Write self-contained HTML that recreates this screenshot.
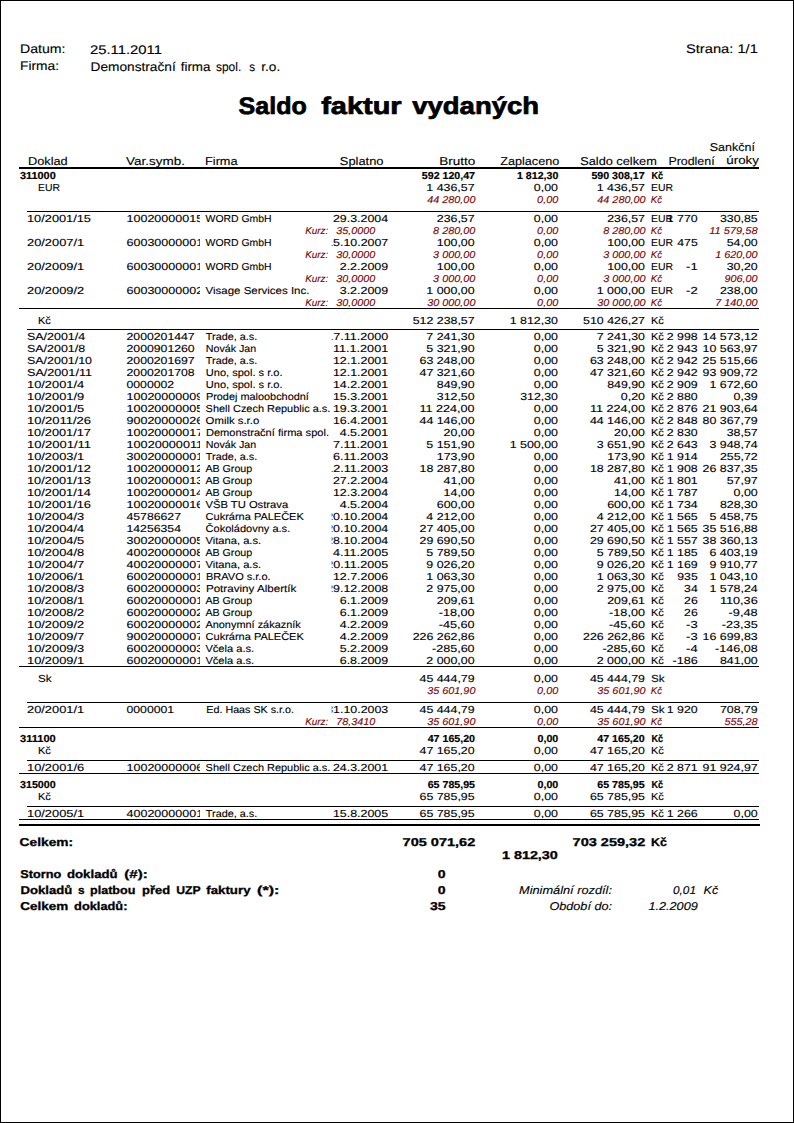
<!DOCTYPE html>
<html lang="cs"><head><meta charset="utf-8"><title>Saldo faktur vydaných</title>
<style>
html,body{margin:0;padding:0;background:#fff;}
body{width:794px;height:1123px;overflow:hidden;position:relative;font-family:"Liberation Sans",sans-serif;}
svg{position:absolute;left:0;top:0;display:block;}
text{font-family:"Liberation Sans",sans-serif;fill:#000;white-space:pre;}
rect{fill:#000;shape-rendering:crispEdges;}
.b8{font-size:10.2px;stroke:#000;stroke-width:.12px;}
.b75{font-size:10.1px;stroke:#000;stroke-width:.12px;}
.i7{font-size:10.0px;font-style:italic;fill:#800000;stroke:#800000;stroke-width:.12px;}
.bb7{font-size:10.1px;font-weight:bold;stroke:#000;stroke-width:.2px;}
.h9{font-size:11.4px;stroke:#000;stroke-width:.12px;}
.h10{font-size:12.5px;stroke:#000;stroke-width:.12px;}
.bb9{font-size:11.4px;font-weight:bold;stroke:#000;stroke-width:.3px;}
.i9{font-size:11.4px;font-style:italic;stroke:#000;stroke-width:.12px;}
.title{font-size:24px;font-weight:bold;stroke:#000;stroke-width:.7px;}
.frame{fill:none;stroke:#000;stroke-width:1;shape-rendering:crispEdges;}
</style></head><body>
<svg width="794" height="1123" viewBox="0 0 794 1123">
<defs>
<clipPath id="cv"><rect x="120" y="150" width="80.1" height="700"/></clipPath>
<clipPath id="cs"><rect x="331.7" y="150" width="70" height="700"/></clipPath>
</defs>
<rect class="frame" x="0.5" y="0.5" width="793" height="1122"/>
<text class="h10" transform="translate(20.0 53) rotate(.05)" textLength="45.5" lengthAdjust="spacingAndGlyphs">Datum:</text>
<text class="h10" transform="translate(90.0 54) rotate(.05)" textLength="72.0" lengthAdjust="spacingAndGlyphs">25.11.2011</text>
<text class="h10" transform="translate(20.0 70) rotate(.05)" textLength="39.0" lengthAdjust="spacingAndGlyphs">Firma:</text>
<text class="h10" transform="translate(90.6 71) rotate(.05)" textLength="85.1" lengthAdjust="spacingAndGlyphs">Demonstrační</text>
<text class="h10" transform="translate(180.7 71) rotate(.05)" textLength="29.7" lengthAdjust="spacingAndGlyphs">firma</text>
<text class="h10" transform="translate(216.0 71) rotate(.05)" textLength="25.2" lengthAdjust="spacingAndGlyphs">spol.</text>
<text class="h10" transform="translate(249.2 71) rotate(.05)" textLength="5.8" lengthAdjust="spacingAndGlyphs">s</text>
<text class="h10" transform="translate(261.3 71) rotate(.05)" textLength="18.9" lengthAdjust="spacingAndGlyphs">r.o.</text>
<text class="h10" transform="translate(686.0 53) rotate(.05)" textLength="71.8" lengthAdjust="spacingAndGlyphs">Strana: 1/1</text>
<text class="title" transform="translate(238.6 114) rotate(.05)" textLength="68.1" lengthAdjust="spacingAndGlyphs">Saldo</text>
<text class="title" transform="translate(321.2 114) rotate(.05)" textLength="80.4" lengthAdjust="spacingAndGlyphs">faktur</text>
<text class="title" transform="translate(412.3 114) rotate(.05)" textLength="126.7" lengthAdjust="spacingAndGlyphs">vydaných</text>
<text class="h9" transform="translate(28.0 165) rotate(.05)" textLength="39.7" lengthAdjust="spacingAndGlyphs">Doklad</text>
<text class="h9" transform="translate(126.0 165) rotate(.05)" textLength="59.0" lengthAdjust="spacingAndGlyphs">Var.symb.</text>
<text class="h9" transform="translate(205.0 165) rotate(.05)" textLength="32.6" lengthAdjust="spacingAndGlyphs">Firma</text>
<text class="h9" transform="translate(339.8 165) rotate(.05)" textLength="43.7" lengthAdjust="spacingAndGlyphs">Splatno</text>
<text class="h9" transform="translate(475.2 165) rotate(.05)" textLength="36.0" lengthAdjust="spacingAndGlyphs" text-anchor="end">Brutto</text>
<text class="h9" transform="translate(559.2 165) rotate(.05)" textLength="58.9" lengthAdjust="spacingAndGlyphs" text-anchor="end">Zaplaceno</text>
<text class="h9" transform="translate(580.2 165) rotate(.05)" textLength="76.6" lengthAdjust="spacingAndGlyphs">Saldo celkem</text>
<text class="h9" transform="translate(668.4 165) rotate(.05)" textLength="46.2" lengthAdjust="spacingAndGlyphs">Prodlení</text>
<text class="h9" transform="translate(709.8 151) rotate(.05)" textLength="45.1" lengthAdjust="spacingAndGlyphs">Sankční</text>
<text class="h9" transform="translate(726.3 164) rotate(.05)" textLength="32.6" lengthAdjust="spacingAndGlyphs">úroky</text>
<rect x="19" y="167" width="740" height="2"/>
<text class="bb7" transform="translate(20.0 179) rotate(.05)" textLength="35.7" lengthAdjust="spacingAndGlyphs">311000</text>
<text class="bb7" transform="translate(475.0 179) rotate(.05)" textLength="53.2" lengthAdjust="spacingAndGlyphs" text-anchor="end">592 120,47</text>
<text class="bb7" transform="translate(558.3 179) rotate(.05)" textLength="41.3" lengthAdjust="spacingAndGlyphs" text-anchor="end">1 812,30</text>
<text class="bb7" transform="translate(644.6 179) rotate(.05)" textLength="53.2" lengthAdjust="spacingAndGlyphs" text-anchor="end">590 308,17</text>
<text class="bb7" transform="translate(651.4 179) rotate(.05)" textLength="11.6" lengthAdjust="spacingAndGlyphs">Kč</text>
<text class="b8" transform="translate(38.0 191) rotate(.05)" textLength="22.0" lengthAdjust="spacingAndGlyphs">EUR</text>
<text class="b8" transform="translate(474.6 191) rotate(.05)" textLength="48.3" lengthAdjust="spacingAndGlyphs" text-anchor="end">1 436,57</text>
<text class="b8" transform="translate(558.0 191) rotate(.05)" textLength="24.2" lengthAdjust="spacingAndGlyphs" text-anchor="end">0,00</text>
<text class="b8" transform="translate(645.0 191) rotate(.05)" textLength="48.3" lengthAdjust="spacingAndGlyphs" text-anchor="end">1 436,57</text>
<text class="b8" transform="translate(651.0 191) rotate(.05)" textLength="22.0" lengthAdjust="spacingAndGlyphs">EUR</text>
<text class="i7" transform="translate(475.4 203) rotate(.05)" textLength="48.2" lengthAdjust="spacingAndGlyphs" text-anchor="end">44 280,00</text>
<text class="i7" transform="translate(558.3 203) rotate(.05)" textLength="21.2" lengthAdjust="spacingAndGlyphs" text-anchor="end">0,00</text>
<text class="i7" transform="translate(645.5 203) rotate(.05)" textLength="48.2" lengthAdjust="spacingAndGlyphs" text-anchor="end">44 280,00</text>
<text class="i7" transform="translate(650.7 203) rotate(.05)" textLength="11.3" lengthAdjust="spacingAndGlyphs">Kč</text>
<rect x="27" y="211" width="732" height="1"/>
<text class="b8" transform="translate(27.0 222) rotate(.05)" textLength="64.0" lengthAdjust="spacingAndGlyphs">10/2001/15</text>
<g clip-path="url(#cv)"><text class="b8" transform="translate(126.5 222) rotate(.05)" textLength="76.6" lengthAdjust="spacingAndGlyphs">10020000015</text></g>
<text class="b75" transform="translate(205.6 222) rotate(.05)" textLength="66.0" lengthAdjust="spacingAndGlyphs">WORD GmbH</text>
<g clip-path="url(#cs)"><text class="b8" transform="translate(388.2 222) rotate(.05)" textLength="55.3" lengthAdjust="spacingAndGlyphs" text-anchor="end">29.3.2004</text></g>
<text class="b8" transform="translate(474.6 222) rotate(.05)" textLength="37.8" lengthAdjust="spacingAndGlyphs" text-anchor="end">236,57</text>
<text class="b8" transform="translate(558.0 222) rotate(.05)" textLength="24.2" lengthAdjust="spacingAndGlyphs" text-anchor="end">0,00</text>
<text class="b8" transform="translate(645.0 222) rotate(.05)" textLength="37.8" lengthAdjust="spacingAndGlyphs" text-anchor="end">236,57</text>
<text class="b8" transform="translate(651.0 222) rotate(.05)" textLength="22.0" lengthAdjust="spacingAndGlyphs">EUR</text>
<text class="b8" transform="translate(697.7 222) rotate(.05)" textLength="30.9" lengthAdjust="spacingAndGlyphs" text-anchor="end">1 770</text>
<text class="b8" transform="translate(757.7 222) rotate(.05)" textLength="37.8" lengthAdjust="spacingAndGlyphs" text-anchor="end">330,85</text>
<text class="i7" transform="translate(305.2 234) rotate(.05)" textLength="23.0" lengthAdjust="spacingAndGlyphs">Kurz:</text>
<text class="i7" transform="translate(375.2 234) rotate(.05)" textLength="39.0" lengthAdjust="spacingAndGlyphs" text-anchor="end">35,0000</text>
<text class="i7" transform="translate(475.4 234) rotate(.05)" textLength="42.3" lengthAdjust="spacingAndGlyphs" text-anchor="end">8 280,00</text>
<text class="i7" transform="translate(558.3 234) rotate(.05)" textLength="21.2" lengthAdjust="spacingAndGlyphs" text-anchor="end">0,00</text>
<text class="i7" transform="translate(645.5 234) rotate(.05)" textLength="42.3" lengthAdjust="spacingAndGlyphs" text-anchor="end">8 280,00</text>
<text class="i7" transform="translate(650.7 234) rotate(.05)" textLength="11.3" lengthAdjust="spacingAndGlyphs">Kč</text>
<text class="i7" transform="translate(757.5 234) rotate(.05)" textLength="48.2" lengthAdjust="spacingAndGlyphs" text-anchor="end">11 579,58</text>
<text class="b8" transform="translate(27.0 246) rotate(.05)" textLength="57.2" lengthAdjust="spacingAndGlyphs">20/2007/1</text>
<g clip-path="url(#cv)"><text class="b8" transform="translate(126.5 246) rotate(.05)" textLength="76.6" lengthAdjust="spacingAndGlyphs">60030000001</text></g>
<text class="b75" transform="translate(205.6 246) rotate(.05)" textLength="66.0" lengthAdjust="spacingAndGlyphs">WORD GmbH</text>
<g clip-path="url(#cs)"><text class="b8" transform="translate(388.2 246) rotate(.05)" textLength="62.0" lengthAdjust="spacingAndGlyphs" text-anchor="end">15.10.2007</text></g>
<text class="b8" transform="translate(474.6 246) rotate(.05)" textLength="37.8" lengthAdjust="spacingAndGlyphs" text-anchor="end">100,00</text>
<text class="b8" transform="translate(558.0 246) rotate(.05)" textLength="24.2" lengthAdjust="spacingAndGlyphs" text-anchor="end">0,00</text>
<text class="b8" transform="translate(645.0 246) rotate(.05)" textLength="37.8" lengthAdjust="spacingAndGlyphs" text-anchor="end">100,00</text>
<text class="b8" transform="translate(651.0 246) rotate(.05)" textLength="22.0" lengthAdjust="spacingAndGlyphs">EUR</text>
<text class="b8" transform="translate(697.7 246) rotate(.05)" textLength="20.4" lengthAdjust="spacingAndGlyphs" text-anchor="end">475</text>
<text class="b8" transform="translate(757.7 246) rotate(.05)" textLength="31.0" lengthAdjust="spacingAndGlyphs" text-anchor="end">54,00</text>
<text class="i7" transform="translate(305.2 258) rotate(.05)" textLength="23.0" lengthAdjust="spacingAndGlyphs">Kurz:</text>
<text class="i7" transform="translate(375.2 258) rotate(.05)" textLength="39.0" lengthAdjust="spacingAndGlyphs" text-anchor="end">30,0000</text>
<text class="i7" transform="translate(475.4 258) rotate(.05)" textLength="42.3" lengthAdjust="spacingAndGlyphs" text-anchor="end">3 000,00</text>
<text class="i7" transform="translate(558.3 258) rotate(.05)" textLength="21.2" lengthAdjust="spacingAndGlyphs" text-anchor="end">0,00</text>
<text class="i7" transform="translate(645.5 258) rotate(.05)" textLength="42.3" lengthAdjust="spacingAndGlyphs" text-anchor="end">3 000,00</text>
<text class="i7" transform="translate(650.7 258) rotate(.05)" textLength="11.3" lengthAdjust="spacingAndGlyphs">Kč</text>
<text class="i7" transform="translate(757.5 258) rotate(.05)" textLength="42.3" lengthAdjust="spacingAndGlyphs" text-anchor="end">1 620,00</text>
<text class="b8" transform="translate(27.0 270) rotate(.05)" textLength="57.2" lengthAdjust="spacingAndGlyphs">20/2009/1</text>
<g clip-path="url(#cv)"><text class="b8" transform="translate(126.5 270) rotate(.05)" textLength="76.6" lengthAdjust="spacingAndGlyphs">60030000001</text></g>
<text class="b75" transform="translate(205.6 270) rotate(.05)" textLength="66.0" lengthAdjust="spacingAndGlyphs">WORD GmbH</text>
<g clip-path="url(#cs)"><text class="b8" transform="translate(388.2 270) rotate(.05)" textLength="48.5" lengthAdjust="spacingAndGlyphs" text-anchor="end">2.2.2009</text></g>
<text class="b8" transform="translate(474.6 270) rotate(.05)" textLength="37.8" lengthAdjust="spacingAndGlyphs" text-anchor="end">100,00</text>
<text class="b8" transform="translate(558.0 270) rotate(.05)" textLength="24.2" lengthAdjust="spacingAndGlyphs" text-anchor="end">0,00</text>
<text class="b8" transform="translate(645.0 270) rotate(.05)" textLength="37.8" lengthAdjust="spacingAndGlyphs" text-anchor="end">100,00</text>
<text class="b8" transform="translate(651.0 270) rotate(.05)" textLength="22.0" lengthAdjust="spacingAndGlyphs">EUR</text>
<text class="b8" transform="translate(697.7 270) rotate(.05)" textLength="11.6" lengthAdjust="spacingAndGlyphs" text-anchor="end">-1</text>
<text class="b8" transform="translate(757.7 270) rotate(.05)" textLength="31.0" lengthAdjust="spacingAndGlyphs" text-anchor="end">30,20</text>
<text class="i7" transform="translate(305.2 282) rotate(.05)" textLength="23.0" lengthAdjust="spacingAndGlyphs">Kurz:</text>
<text class="i7" transform="translate(375.2 282) rotate(.05)" textLength="39.0" lengthAdjust="spacingAndGlyphs" text-anchor="end">30,0000</text>
<text class="i7" transform="translate(475.4 282) rotate(.05)" textLength="42.3" lengthAdjust="spacingAndGlyphs" text-anchor="end">3 000,00</text>
<text class="i7" transform="translate(558.3 282) rotate(.05)" textLength="21.2" lengthAdjust="spacingAndGlyphs" text-anchor="end">0,00</text>
<text class="i7" transform="translate(645.5 282) rotate(.05)" textLength="42.3" lengthAdjust="spacingAndGlyphs" text-anchor="end">3 000,00</text>
<text class="i7" transform="translate(650.7 282) rotate(.05)" textLength="11.3" lengthAdjust="spacingAndGlyphs">Kč</text>
<text class="i7" transform="translate(757.5 282) rotate(.05)" textLength="33.1" lengthAdjust="spacingAndGlyphs" text-anchor="end">906,00</text>
<text class="b8" transform="translate(27.0 294) rotate(.05)" textLength="57.2" lengthAdjust="spacingAndGlyphs">20/2009/2</text>
<g clip-path="url(#cv)"><text class="b8" transform="translate(126.5 294) rotate(.05)" textLength="76.6" lengthAdjust="spacingAndGlyphs">60030000002</text></g>
<text class="b75" transform="translate(205.6 294) rotate(.05)" textLength="103.8" lengthAdjust="spacingAndGlyphs">Visage Services Inc.</text>
<g clip-path="url(#cs)"><text class="b8" transform="translate(388.2 294) rotate(.05)" textLength="48.5" lengthAdjust="spacingAndGlyphs" text-anchor="end">3.2.2009</text></g>
<text class="b8" transform="translate(474.6 294) rotate(.05)" textLength="48.3" lengthAdjust="spacingAndGlyphs" text-anchor="end">1 000,00</text>
<text class="b8" transform="translate(558.0 294) rotate(.05)" textLength="24.2" lengthAdjust="spacingAndGlyphs" text-anchor="end">0,00</text>
<text class="b8" transform="translate(645.0 294) rotate(.05)" textLength="48.3" lengthAdjust="spacingAndGlyphs" text-anchor="end">1 000,00</text>
<text class="b8" transform="translate(651.0 294) rotate(.05)" textLength="22.0" lengthAdjust="spacingAndGlyphs">EUR</text>
<text class="b8" transform="translate(697.7 294) rotate(.05)" textLength="11.6" lengthAdjust="spacingAndGlyphs" text-anchor="end">-2</text>
<text class="b8" transform="translate(757.7 294) rotate(.05)" textLength="37.8" lengthAdjust="spacingAndGlyphs" text-anchor="end">238,00</text>
<text class="i7" transform="translate(305.2 306) rotate(.05)" textLength="23.0" lengthAdjust="spacingAndGlyphs">Kurz:</text>
<text class="i7" transform="translate(375.2 306) rotate(.05)" textLength="39.0" lengthAdjust="spacingAndGlyphs" text-anchor="end">30,0000</text>
<text class="i7" transform="translate(475.4 306) rotate(.05)" textLength="48.2" lengthAdjust="spacingAndGlyphs" text-anchor="end">30 000,00</text>
<text class="i7" transform="translate(558.3 306) rotate(.05)" textLength="21.2" lengthAdjust="spacingAndGlyphs" text-anchor="end">0,00</text>
<text class="i7" transform="translate(645.5 306) rotate(.05)" textLength="48.2" lengthAdjust="spacingAndGlyphs" text-anchor="end">30 000,00</text>
<text class="i7" transform="translate(650.7 306) rotate(.05)" textLength="11.3" lengthAdjust="spacingAndGlyphs">Kč</text>
<text class="i7" transform="translate(757.5 306) rotate(.05)" textLength="42.3" lengthAdjust="spacingAndGlyphs" text-anchor="end">7 140,00</text>
<rect x="19" y="308" width="740" height="1"/>
<text class="b8" transform="translate(38.0 324) rotate(.05)" textLength="12.9" lengthAdjust="spacingAndGlyphs">Kč</text>
<text class="b8" transform="translate(474.6 324) rotate(.05)" textLength="61.9" lengthAdjust="spacingAndGlyphs" text-anchor="end">512 238,57</text>
<text class="b8" transform="translate(558.0 324) rotate(.05)" textLength="48.3" lengthAdjust="spacingAndGlyphs" text-anchor="end">1 812,30</text>
<text class="b8" transform="translate(645.0 324) rotate(.05)" textLength="61.9" lengthAdjust="spacingAndGlyphs" text-anchor="end">510 426,27</text>
<text class="b8" transform="translate(651.0 324) rotate(.05)" textLength="12.9" lengthAdjust="spacingAndGlyphs">Kč</text>
<rect x="27" y="329" width="732" height="1"/>
<text class="b8" transform="translate(27.0 340) rotate(.05)" textLength="58.2" lengthAdjust="spacingAndGlyphs">SA/2001/4</text>
<g clip-path="url(#cv)"><text class="b8" transform="translate(126.5 340) rotate(.05)" textLength="68.2" lengthAdjust="spacingAndGlyphs">2000201447</text></g>
<text class="b75" transform="translate(205.8 340) rotate(.05)" textLength="51.4" lengthAdjust="spacingAndGlyphs">Trade, a.s.</text>
<g clip-path="url(#cs)"><text class="b8" transform="translate(388.2 340) rotate(.05)" textLength="62.0" lengthAdjust="spacingAndGlyphs" text-anchor="end">17.11.2000</text></g>
<text class="b8" transform="translate(474.6 340) rotate(.05)" textLength="48.3" lengthAdjust="spacingAndGlyphs" text-anchor="end">7 241,30</text>
<text class="b8" transform="translate(558.0 340) rotate(.05)" textLength="24.2" lengthAdjust="spacingAndGlyphs" text-anchor="end">0,00</text>
<text class="b8" transform="translate(645.0 340) rotate(.05)" textLength="48.3" lengthAdjust="spacingAndGlyphs" text-anchor="end">7 241,30</text>
<text class="b8" transform="translate(651.0 340) rotate(.05)" textLength="12.9" lengthAdjust="spacingAndGlyphs">Kč</text>
<text class="b8" transform="translate(697.7 340) rotate(.05)" textLength="30.9" lengthAdjust="spacingAndGlyphs" text-anchor="end">2 998</text>
<text class="b8" transform="translate(757.7 340) rotate(.05)" textLength="55.1" lengthAdjust="spacingAndGlyphs" text-anchor="end">14 573,12</text>
<text class="b8" transform="translate(27.0 352) rotate(.05)" textLength="58.2" lengthAdjust="spacingAndGlyphs">SA/2001/8</text>
<g clip-path="url(#cv)"><text class="b8" transform="translate(126.5 352) rotate(.05)" textLength="68.2" lengthAdjust="spacingAndGlyphs">2000901260</text></g>
<text class="b75" transform="translate(205.8 352) rotate(.05)" textLength="50.4" lengthAdjust="spacingAndGlyphs">Novák Jan</text>
<g clip-path="url(#cs)"><text class="b8" transform="translate(388.2 352) rotate(.05)" textLength="55.3" lengthAdjust="spacingAndGlyphs" text-anchor="end">11.1.2001</text></g>
<text class="b8" transform="translate(474.6 352) rotate(.05)" textLength="48.3" lengthAdjust="spacingAndGlyphs" text-anchor="end">5 321,90</text>
<text class="b8" transform="translate(558.0 352) rotate(.05)" textLength="24.2" lengthAdjust="spacingAndGlyphs" text-anchor="end">0,00</text>
<text class="b8" transform="translate(645.0 352) rotate(.05)" textLength="48.3" lengthAdjust="spacingAndGlyphs" text-anchor="end">5 321,90</text>
<text class="b8" transform="translate(651.0 352) rotate(.05)" textLength="12.9" lengthAdjust="spacingAndGlyphs">Kč</text>
<text class="b8" transform="translate(697.7 352) rotate(.05)" textLength="30.9" lengthAdjust="spacingAndGlyphs" text-anchor="end">2 943</text>
<text class="b8" transform="translate(757.7 352) rotate(.05)" textLength="55.1" lengthAdjust="spacingAndGlyphs" text-anchor="end">10 563,97</text>
<text class="b8" transform="translate(27.0 364) rotate(.05)" textLength="65.0" lengthAdjust="spacingAndGlyphs">SA/2001/10</text>
<g clip-path="url(#cv)"><text class="b8" transform="translate(126.5 364) rotate(.05)" textLength="68.2" lengthAdjust="spacingAndGlyphs">2000201697</text></g>
<text class="b75" transform="translate(205.8 364) rotate(.05)" textLength="51.4" lengthAdjust="spacingAndGlyphs">Trade, a.s.</text>
<g clip-path="url(#cs)"><text class="b8" transform="translate(388.2 364) rotate(.05)" textLength="55.3" lengthAdjust="spacingAndGlyphs" text-anchor="end">12.1.2001</text></g>
<text class="b8" transform="translate(474.6 364) rotate(.05)" textLength="55.1" lengthAdjust="spacingAndGlyphs" text-anchor="end">63 248,00</text>
<text class="b8" transform="translate(558.0 364) rotate(.05)" textLength="24.2" lengthAdjust="spacingAndGlyphs" text-anchor="end">0,00</text>
<text class="b8" transform="translate(645.0 364) rotate(.05)" textLength="55.1" lengthAdjust="spacingAndGlyphs" text-anchor="end">63 248,00</text>
<text class="b8" transform="translate(651.0 364) rotate(.05)" textLength="12.9" lengthAdjust="spacingAndGlyphs">Kč</text>
<text class="b8" transform="translate(697.7 364) rotate(.05)" textLength="30.9" lengthAdjust="spacingAndGlyphs" text-anchor="end">2 942</text>
<text class="b8" transform="translate(757.7 364) rotate(.05)" textLength="55.1" lengthAdjust="spacingAndGlyphs" text-anchor="end">25 515,66</text>
<text class="b8" transform="translate(27.0 376) rotate(.05)" textLength="65.0" lengthAdjust="spacingAndGlyphs">SA/2001/11</text>
<g clip-path="url(#cv)"><text class="b8" transform="translate(126.5 376) rotate(.05)" textLength="68.2" lengthAdjust="spacingAndGlyphs">2000201708</text></g>
<text class="b75" transform="translate(205.8 376) rotate(.05)" textLength="76.7" lengthAdjust="spacingAndGlyphs">Uno, spol. s r.o.</text>
<g clip-path="url(#cs)"><text class="b8" transform="translate(388.2 376) rotate(.05)" textLength="55.3" lengthAdjust="spacingAndGlyphs" text-anchor="end">12.1.2001</text></g>
<text class="b8" transform="translate(474.6 376) rotate(.05)" textLength="55.1" lengthAdjust="spacingAndGlyphs" text-anchor="end">47 321,60</text>
<text class="b8" transform="translate(558.0 376) rotate(.05)" textLength="24.2" lengthAdjust="spacingAndGlyphs" text-anchor="end">0,00</text>
<text class="b8" transform="translate(645.0 376) rotate(.05)" textLength="55.1" lengthAdjust="spacingAndGlyphs" text-anchor="end">47 321,60</text>
<text class="b8" transform="translate(651.0 376) rotate(.05)" textLength="12.9" lengthAdjust="spacingAndGlyphs">Kč</text>
<text class="b8" transform="translate(697.7 376) rotate(.05)" textLength="30.9" lengthAdjust="spacingAndGlyphs" text-anchor="end">2 942</text>
<text class="b8" transform="translate(757.7 376) rotate(.05)" textLength="55.1" lengthAdjust="spacingAndGlyphs" text-anchor="end">93 909,72</text>
<text class="b8" transform="translate(27.0 388) rotate(.05)" textLength="57.2" lengthAdjust="spacingAndGlyphs">10/2001/4</text>
<g clip-path="url(#cv)"><text class="b8" transform="translate(126.5 388) rotate(.05)" textLength="47.7" lengthAdjust="spacingAndGlyphs">0000002</text></g>
<text class="b75" transform="translate(205.8 388) rotate(.05)" textLength="76.7" lengthAdjust="spacingAndGlyphs">Uno, spol. s r.o.</text>
<g clip-path="url(#cs)"><text class="b8" transform="translate(388.2 388) rotate(.05)" textLength="55.3" lengthAdjust="spacingAndGlyphs" text-anchor="end">14.2.2001</text></g>
<text class="b8" transform="translate(474.6 388) rotate(.05)" textLength="37.8" lengthAdjust="spacingAndGlyphs" text-anchor="end">849,90</text>
<text class="b8" transform="translate(558.0 388) rotate(.05)" textLength="24.2" lengthAdjust="spacingAndGlyphs" text-anchor="end">0,00</text>
<text class="b8" transform="translate(645.0 388) rotate(.05)" textLength="37.8" lengthAdjust="spacingAndGlyphs" text-anchor="end">849,90</text>
<text class="b8" transform="translate(651.0 388) rotate(.05)" textLength="12.9" lengthAdjust="spacingAndGlyphs">Kč</text>
<text class="b8" transform="translate(697.7 388) rotate(.05)" textLength="30.9" lengthAdjust="spacingAndGlyphs" text-anchor="end">2 909</text>
<text class="b8" transform="translate(757.7 388) rotate(.05)" textLength="48.3" lengthAdjust="spacingAndGlyphs" text-anchor="end">1 672,60</text>
<text class="b8" transform="translate(27.0 400) rotate(.05)" textLength="57.2" lengthAdjust="spacingAndGlyphs">10/2001/9</text>
<g clip-path="url(#cv)"><text class="b8" transform="translate(126.5 400) rotate(.05)" textLength="76.6" lengthAdjust="spacingAndGlyphs">10020000009</text></g>
<text class="b75" transform="translate(205.9 400) rotate(.05)" textLength="103.0" lengthAdjust="spacingAndGlyphs">Prodej maloobchodní</text>
<g clip-path="url(#cs)"><text class="b8" transform="translate(388.2 400) rotate(.05)" textLength="55.3" lengthAdjust="spacingAndGlyphs" text-anchor="end">15.3.2001</text></g>
<text class="b8" transform="translate(474.6 400) rotate(.05)" textLength="37.8" lengthAdjust="spacingAndGlyphs" text-anchor="end">312,50</text>
<text class="b8" transform="translate(558.0 400) rotate(.05)" textLength="37.8" lengthAdjust="spacingAndGlyphs" text-anchor="end">312,30</text>
<text class="b8" transform="translate(645.0 400) rotate(.05)" textLength="24.2" lengthAdjust="spacingAndGlyphs" text-anchor="end">0,20</text>
<text class="b8" transform="translate(651.0 400) rotate(.05)" textLength="12.9" lengthAdjust="spacingAndGlyphs">Kč</text>
<text class="b8" transform="translate(697.7 400) rotate(.05)" textLength="30.9" lengthAdjust="spacingAndGlyphs" text-anchor="end">2 880</text>
<text class="b8" transform="translate(757.7 400) rotate(.05)" textLength="24.2" lengthAdjust="spacingAndGlyphs" text-anchor="end">0,39</text>
<text class="b8" transform="translate(27.0 412) rotate(.05)" textLength="57.2" lengthAdjust="spacingAndGlyphs">10/2001/5</text>
<g clip-path="url(#cv)"><text class="b8" transform="translate(126.5 412) rotate(.05)" textLength="76.6" lengthAdjust="spacingAndGlyphs">10020000005</text></g>
<text class="b75" transform="translate(205.6 412) rotate(.05)" textLength="124.7" lengthAdjust="spacingAndGlyphs">Shell Czech Republic a.s.</text>
<g clip-path="url(#cs)"><text class="b8" transform="translate(388.2 412) rotate(.05)" textLength="55.3" lengthAdjust="spacingAndGlyphs" text-anchor="end">19.3.2001</text></g>
<text class="b8" transform="translate(474.6 412) rotate(.05)" textLength="55.1" lengthAdjust="spacingAndGlyphs" text-anchor="end">11 224,00</text>
<text class="b8" transform="translate(558.0 412) rotate(.05)" textLength="24.2" lengthAdjust="spacingAndGlyphs" text-anchor="end">0,00</text>
<text class="b8" transform="translate(645.0 412) rotate(.05)" textLength="55.1" lengthAdjust="spacingAndGlyphs" text-anchor="end">11 224,00</text>
<text class="b8" transform="translate(651.0 412) rotate(.05)" textLength="12.9" lengthAdjust="spacingAndGlyphs">Kč</text>
<text class="b8" transform="translate(697.7 412) rotate(.05)" textLength="30.9" lengthAdjust="spacingAndGlyphs" text-anchor="end">2 876</text>
<text class="b8" transform="translate(757.7 412) rotate(.05)" textLength="55.1" lengthAdjust="spacingAndGlyphs" text-anchor="end">21 903,64</text>
<text class="b8" transform="translate(27.0 424) rotate(.05)" textLength="64.0" lengthAdjust="spacingAndGlyphs">10/2011/26</text>
<g clip-path="url(#cv)"><text class="b8" transform="translate(126.5 424) rotate(.05)" textLength="76.6" lengthAdjust="spacingAndGlyphs">90020000026</text></g>
<text class="b75" transform="translate(205.6 424) rotate(.05)" textLength="53.6" lengthAdjust="spacingAndGlyphs">Omilk s.r.o</text>
<g clip-path="url(#cs)"><text class="b8" transform="translate(388.2 424) rotate(.05)" textLength="55.3" lengthAdjust="spacingAndGlyphs" text-anchor="end">16.4.2001</text></g>
<text class="b8" transform="translate(474.6 424) rotate(.05)" textLength="55.1" lengthAdjust="spacingAndGlyphs" text-anchor="end">44 146,00</text>
<text class="b8" transform="translate(558.0 424) rotate(.05)" textLength="24.2" lengthAdjust="spacingAndGlyphs" text-anchor="end">0,00</text>
<text class="b8" transform="translate(645.0 424) rotate(.05)" textLength="55.1" lengthAdjust="spacingAndGlyphs" text-anchor="end">44 146,00</text>
<text class="b8" transform="translate(651.0 424) rotate(.05)" textLength="12.9" lengthAdjust="spacingAndGlyphs">Kč</text>
<text class="b8" transform="translate(697.7 424) rotate(.05)" textLength="30.9" lengthAdjust="spacingAndGlyphs" text-anchor="end">2 848</text>
<text class="b8" transform="translate(757.7 424) rotate(.05)" textLength="55.1" lengthAdjust="spacingAndGlyphs" text-anchor="end">80 367,79</text>
<text class="b8" transform="translate(27.0 436) rotate(.05)" textLength="64.0" lengthAdjust="spacingAndGlyphs">10/2001/17</text>
<g clip-path="url(#cv)"><text class="b8" transform="translate(126.5 436) rotate(.05)" textLength="76.6" lengthAdjust="spacingAndGlyphs">10020000017</text></g>
<text class="b75" transform="translate(205.9 436) rotate(.05)" textLength="123.1" lengthAdjust="spacingAndGlyphs">Demonstrační firma spol.</text>
<g clip-path="url(#cs)"><text class="b8" transform="translate(388.2 436) rotate(.05)" textLength="48.5" lengthAdjust="spacingAndGlyphs" text-anchor="end">4.5.2001</text></g>
<text class="b8" transform="translate(474.6 436) rotate(.05)" textLength="31.0" lengthAdjust="spacingAndGlyphs" text-anchor="end">20,00</text>
<text class="b8" transform="translate(558.0 436) rotate(.05)" textLength="24.2" lengthAdjust="spacingAndGlyphs" text-anchor="end">0,00</text>
<text class="b8" transform="translate(645.0 436) rotate(.05)" textLength="31.0" lengthAdjust="spacingAndGlyphs" text-anchor="end">20,00</text>
<text class="b8" transform="translate(651.0 436) rotate(.05)" textLength="12.9" lengthAdjust="spacingAndGlyphs">Kč</text>
<text class="b8" transform="translate(697.7 436) rotate(.05)" textLength="30.9" lengthAdjust="spacingAndGlyphs" text-anchor="end">2 830</text>
<text class="b8" transform="translate(757.7 436) rotate(.05)" textLength="31.0" lengthAdjust="spacingAndGlyphs" text-anchor="end">38,57</text>
<text class="b8" transform="translate(27.0 448) rotate(.05)" textLength="64.0" lengthAdjust="spacingAndGlyphs">10/2001/11</text>
<g clip-path="url(#cv)"><text class="b8" transform="translate(126.5 448) rotate(.05)" textLength="76.6" lengthAdjust="spacingAndGlyphs">10020000011</text></g>
<text class="b75" transform="translate(205.8 448) rotate(.05)" textLength="50.4" lengthAdjust="spacingAndGlyphs">Novák Jan</text>
<g clip-path="url(#cs)"><text class="b8" transform="translate(388.2 448) rotate(.05)" textLength="55.3" lengthAdjust="spacingAndGlyphs" text-anchor="end">7.11.2001</text></g>
<text class="b8" transform="translate(474.6 448) rotate(.05)" textLength="48.3" lengthAdjust="spacingAndGlyphs" text-anchor="end">5 151,90</text>
<text class="b8" transform="translate(558.0 448) rotate(.05)" textLength="48.3" lengthAdjust="spacingAndGlyphs" text-anchor="end">1 500,00</text>
<text class="b8" transform="translate(645.0 448) rotate(.05)" textLength="48.3" lengthAdjust="spacingAndGlyphs" text-anchor="end">3 651,90</text>
<text class="b8" transform="translate(651.0 448) rotate(.05)" textLength="12.9" lengthAdjust="spacingAndGlyphs">Kč</text>
<text class="b8" transform="translate(697.7 448) rotate(.05)" textLength="30.9" lengthAdjust="spacingAndGlyphs" text-anchor="end">2 643</text>
<text class="b8" transform="translate(757.7 448) rotate(.05)" textLength="48.3" lengthAdjust="spacingAndGlyphs" text-anchor="end">3 948,74</text>
<text class="b8" transform="translate(27.0 460) rotate(.05)" textLength="57.2" lengthAdjust="spacingAndGlyphs">10/2003/1</text>
<g clip-path="url(#cv)"><text class="b8" transform="translate(126.5 460) rotate(.05)" textLength="76.6" lengthAdjust="spacingAndGlyphs">30020000001</text></g>
<text class="b75" transform="translate(205.8 460) rotate(.05)" textLength="51.4" lengthAdjust="spacingAndGlyphs">Trade, a.s.</text>
<g clip-path="url(#cs)"><text class="b8" transform="translate(388.2 460) rotate(.05)" textLength="55.3" lengthAdjust="spacingAndGlyphs" text-anchor="end">6.11.2003</text></g>
<text class="b8" transform="translate(474.6 460) rotate(.05)" textLength="37.8" lengthAdjust="spacingAndGlyphs" text-anchor="end">173,90</text>
<text class="b8" transform="translate(558.0 460) rotate(.05)" textLength="24.2" lengthAdjust="spacingAndGlyphs" text-anchor="end">0,00</text>
<text class="b8" transform="translate(645.0 460) rotate(.05)" textLength="37.8" lengthAdjust="spacingAndGlyphs" text-anchor="end">173,90</text>
<text class="b8" transform="translate(651.0 460) rotate(.05)" textLength="12.9" lengthAdjust="spacingAndGlyphs">Kč</text>
<text class="b8" transform="translate(697.7 460) rotate(.05)" textLength="30.9" lengthAdjust="spacingAndGlyphs" text-anchor="end">1 914</text>
<text class="b8" transform="translate(757.7 460) rotate(.05)" textLength="37.8" lengthAdjust="spacingAndGlyphs" text-anchor="end">255,72</text>
<text class="b8" transform="translate(27.0 472) rotate(.05)" textLength="64.0" lengthAdjust="spacingAndGlyphs">10/2001/12</text>
<g clip-path="url(#cv)"><text class="b8" transform="translate(126.5 472) rotate(.05)" textLength="76.6" lengthAdjust="spacingAndGlyphs">10020000012</text></g>
<text class="b75" transform="translate(205.4 472) rotate(.05)" textLength="46.8" lengthAdjust="spacingAndGlyphs">AB Group</text>
<g clip-path="url(#cs)"><text class="b8" transform="translate(388.2 472) rotate(.05)" textLength="62.0" lengthAdjust="spacingAndGlyphs" text-anchor="end">12.11.2003</text></g>
<text class="b8" transform="translate(474.6 472) rotate(.05)" textLength="55.1" lengthAdjust="spacingAndGlyphs" text-anchor="end">18 287,80</text>
<text class="b8" transform="translate(558.0 472) rotate(.05)" textLength="24.2" lengthAdjust="spacingAndGlyphs" text-anchor="end">0,00</text>
<text class="b8" transform="translate(645.0 472) rotate(.05)" textLength="55.1" lengthAdjust="spacingAndGlyphs" text-anchor="end">18 287,80</text>
<text class="b8" transform="translate(651.0 472) rotate(.05)" textLength="12.9" lengthAdjust="spacingAndGlyphs">Kč</text>
<text class="b8" transform="translate(697.7 472) rotate(.05)" textLength="30.9" lengthAdjust="spacingAndGlyphs" text-anchor="end">1 908</text>
<text class="b8" transform="translate(757.7 472) rotate(.05)" textLength="55.1" lengthAdjust="spacingAndGlyphs" text-anchor="end">26 837,35</text>
<text class="b8" transform="translate(27.0 484) rotate(.05)" textLength="64.0" lengthAdjust="spacingAndGlyphs">10/2001/13</text>
<g clip-path="url(#cv)"><text class="b8" transform="translate(126.5 484) rotate(.05)" textLength="76.6" lengthAdjust="spacingAndGlyphs">10020000013</text></g>
<text class="b75" transform="translate(205.4 484) rotate(.05)" textLength="46.8" lengthAdjust="spacingAndGlyphs">AB Group</text>
<g clip-path="url(#cs)"><text class="b8" transform="translate(388.2 484) rotate(.05)" textLength="55.3" lengthAdjust="spacingAndGlyphs" text-anchor="end">27.2.2004</text></g>
<text class="b8" transform="translate(474.6 484) rotate(.05)" textLength="31.0" lengthAdjust="spacingAndGlyphs" text-anchor="end">41,00</text>
<text class="b8" transform="translate(558.0 484) rotate(.05)" textLength="24.2" lengthAdjust="spacingAndGlyphs" text-anchor="end">0,00</text>
<text class="b8" transform="translate(645.0 484) rotate(.05)" textLength="31.0" lengthAdjust="spacingAndGlyphs" text-anchor="end">41,00</text>
<text class="b8" transform="translate(651.0 484) rotate(.05)" textLength="12.9" lengthAdjust="spacingAndGlyphs">Kč</text>
<text class="b8" transform="translate(697.7 484) rotate(.05)" textLength="30.9" lengthAdjust="spacingAndGlyphs" text-anchor="end">1 801</text>
<text class="b8" transform="translate(757.7 484) rotate(.05)" textLength="31.0" lengthAdjust="spacingAndGlyphs" text-anchor="end">57,97</text>
<text class="b8" transform="translate(27.0 496) rotate(.05)" textLength="64.0" lengthAdjust="spacingAndGlyphs">10/2001/14</text>
<g clip-path="url(#cv)"><text class="b8" transform="translate(126.5 496) rotate(.05)" textLength="76.6" lengthAdjust="spacingAndGlyphs">10020000014</text></g>
<text class="b75" transform="translate(205.4 496) rotate(.05)" textLength="46.8" lengthAdjust="spacingAndGlyphs">AB Group</text>
<g clip-path="url(#cs)"><text class="b8" transform="translate(388.2 496) rotate(.05)" textLength="55.3" lengthAdjust="spacingAndGlyphs" text-anchor="end">12.3.2004</text></g>
<text class="b8" transform="translate(474.6 496) rotate(.05)" textLength="31.0" lengthAdjust="spacingAndGlyphs" text-anchor="end">14,00</text>
<text class="b8" transform="translate(558.0 496) rotate(.05)" textLength="24.2" lengthAdjust="spacingAndGlyphs" text-anchor="end">0,00</text>
<text class="b8" transform="translate(645.0 496) rotate(.05)" textLength="31.0" lengthAdjust="spacingAndGlyphs" text-anchor="end">14,00</text>
<text class="b8" transform="translate(651.0 496) rotate(.05)" textLength="12.9" lengthAdjust="spacingAndGlyphs">Kč</text>
<text class="b8" transform="translate(697.7 496) rotate(.05)" textLength="30.9" lengthAdjust="spacingAndGlyphs" text-anchor="end">1 787</text>
<text class="b8" transform="translate(757.7 496) rotate(.05)" textLength="24.2" lengthAdjust="spacingAndGlyphs" text-anchor="end">0,00</text>
<text class="b8" transform="translate(27.0 508) rotate(.05)" textLength="64.0" lengthAdjust="spacingAndGlyphs">10/2001/16</text>
<g clip-path="url(#cv)"><text class="b8" transform="translate(126.5 508) rotate(.05)" textLength="76.6" lengthAdjust="spacingAndGlyphs">10020000016</text></g>
<text class="b75" transform="translate(205.4 508) rotate(.05)" textLength="82.8" lengthAdjust="spacingAndGlyphs">VŠB TU Ostrava</text>
<g clip-path="url(#cs)"><text class="b8" transform="translate(388.2 508) rotate(.05)" textLength="48.5" lengthAdjust="spacingAndGlyphs" text-anchor="end">4.5.2004</text></g>
<text class="b8" transform="translate(474.6 508) rotate(.05)" textLength="37.8" lengthAdjust="spacingAndGlyphs" text-anchor="end">600,00</text>
<text class="b8" transform="translate(558.0 508) rotate(.05)" textLength="24.2" lengthAdjust="spacingAndGlyphs" text-anchor="end">0,00</text>
<text class="b8" transform="translate(645.0 508) rotate(.05)" textLength="37.8" lengthAdjust="spacingAndGlyphs" text-anchor="end">600,00</text>
<text class="b8" transform="translate(651.0 508) rotate(.05)" textLength="12.9" lengthAdjust="spacingAndGlyphs">Kč</text>
<text class="b8" transform="translate(697.7 508) rotate(.05)" textLength="30.9" lengthAdjust="spacingAndGlyphs" text-anchor="end">1 734</text>
<text class="b8" transform="translate(757.7 508) rotate(.05)" textLength="37.8" lengthAdjust="spacingAndGlyphs" text-anchor="end">828,30</text>
<text class="b8" transform="translate(27.0 520) rotate(.05)" textLength="57.2" lengthAdjust="spacingAndGlyphs">10/2004/3</text>
<g clip-path="url(#cv)"><text class="b8" transform="translate(126.5 520) rotate(.05)" textLength="54.5" lengthAdjust="spacingAndGlyphs">45786627</text></g>
<text class="b75" transform="translate(205.6 520) rotate(.05)" textLength="98.2" lengthAdjust="spacingAndGlyphs">Cukrárna PALEČEK</text>
<g clip-path="url(#cs)"><text class="b8" transform="translate(388.2 520) rotate(.05)" textLength="62.0" lengthAdjust="spacingAndGlyphs" text-anchor="end">20.10.2004</text></g>
<text class="b8" transform="translate(474.6 520) rotate(.05)" textLength="48.3" lengthAdjust="spacingAndGlyphs" text-anchor="end">4 212,00</text>
<text class="b8" transform="translate(558.0 520) rotate(.05)" textLength="24.2" lengthAdjust="spacingAndGlyphs" text-anchor="end">0,00</text>
<text class="b8" transform="translate(645.0 520) rotate(.05)" textLength="48.3" lengthAdjust="spacingAndGlyphs" text-anchor="end">4 212,00</text>
<text class="b8" transform="translate(651.0 520) rotate(.05)" textLength="12.9" lengthAdjust="spacingAndGlyphs">Kč</text>
<text class="b8" transform="translate(697.7 520) rotate(.05)" textLength="30.9" lengthAdjust="spacingAndGlyphs" text-anchor="end">1 565</text>
<text class="b8" transform="translate(757.7 520) rotate(.05)" textLength="48.3" lengthAdjust="spacingAndGlyphs" text-anchor="end">5 458,75</text>
<text class="b8" transform="translate(27.0 532) rotate(.05)" textLength="57.2" lengthAdjust="spacingAndGlyphs">10/2004/4</text>
<g clip-path="url(#cv)"><text class="b8" transform="translate(126.5 532) rotate(.05)" textLength="54.5" lengthAdjust="spacingAndGlyphs">14256354</text></g>
<text class="b75" transform="translate(205.6 532) rotate(.05)" textLength="84.6" lengthAdjust="spacingAndGlyphs">Čokoládovny a.s.</text>
<g clip-path="url(#cs)"><text class="b8" transform="translate(388.2 532) rotate(.05)" textLength="62.0" lengthAdjust="spacingAndGlyphs" text-anchor="end">20.10.2004</text></g>
<text class="b8" transform="translate(474.6 532) rotate(.05)" textLength="55.1" lengthAdjust="spacingAndGlyphs" text-anchor="end">27 405,00</text>
<text class="b8" transform="translate(558.0 532) rotate(.05)" textLength="24.2" lengthAdjust="spacingAndGlyphs" text-anchor="end">0,00</text>
<text class="b8" transform="translate(645.0 532) rotate(.05)" textLength="55.1" lengthAdjust="spacingAndGlyphs" text-anchor="end">27 405,00</text>
<text class="b8" transform="translate(651.0 532) rotate(.05)" textLength="12.9" lengthAdjust="spacingAndGlyphs">Kč</text>
<text class="b8" transform="translate(697.7 532) rotate(.05)" textLength="30.9" lengthAdjust="spacingAndGlyphs" text-anchor="end">1 565</text>
<text class="b8" transform="translate(757.7 532) rotate(.05)" textLength="55.1" lengthAdjust="spacingAndGlyphs" text-anchor="end">35 516,88</text>
<text class="b8" transform="translate(27.0 544) rotate(.05)" textLength="57.2" lengthAdjust="spacingAndGlyphs">10/2004/5</text>
<g clip-path="url(#cv)"><text class="b8" transform="translate(126.5 544) rotate(.05)" textLength="76.6" lengthAdjust="spacingAndGlyphs">30020000005</text></g>
<text class="b75" transform="translate(205.4 544) rotate(.05)" textLength="55.8" lengthAdjust="spacingAndGlyphs">Vitana, a.s.</text>
<g clip-path="url(#cs)"><text class="b8" transform="translate(388.2 544) rotate(.05)" textLength="62.0" lengthAdjust="spacingAndGlyphs" text-anchor="end">28.10.2004</text></g>
<text class="b8" transform="translate(474.6 544) rotate(.05)" textLength="55.1" lengthAdjust="spacingAndGlyphs" text-anchor="end">29 690,50</text>
<text class="b8" transform="translate(558.0 544) rotate(.05)" textLength="24.2" lengthAdjust="spacingAndGlyphs" text-anchor="end">0,00</text>
<text class="b8" transform="translate(645.0 544) rotate(.05)" textLength="55.1" lengthAdjust="spacingAndGlyphs" text-anchor="end">29 690,50</text>
<text class="b8" transform="translate(651.0 544) rotate(.05)" textLength="12.9" lengthAdjust="spacingAndGlyphs">Kč</text>
<text class="b8" transform="translate(697.7 544) rotate(.05)" textLength="30.9" lengthAdjust="spacingAndGlyphs" text-anchor="end">1 557</text>
<text class="b8" transform="translate(757.7 544) rotate(.05)" textLength="55.1" lengthAdjust="spacingAndGlyphs" text-anchor="end">38 360,13</text>
<text class="b8" transform="translate(27.0 556) rotate(.05)" textLength="57.2" lengthAdjust="spacingAndGlyphs">10/2004/8</text>
<g clip-path="url(#cv)"><text class="b8" transform="translate(126.5 556) rotate(.05)" textLength="76.6" lengthAdjust="spacingAndGlyphs">40020000008</text></g>
<text class="b75" transform="translate(205.4 556) rotate(.05)" textLength="46.8" lengthAdjust="spacingAndGlyphs">AB Group</text>
<g clip-path="url(#cs)"><text class="b8" transform="translate(388.2 556) rotate(.05)" textLength="55.3" lengthAdjust="spacingAndGlyphs" text-anchor="end">4.11.2005</text></g>
<text class="b8" transform="translate(474.6 556) rotate(.05)" textLength="48.3" lengthAdjust="spacingAndGlyphs" text-anchor="end">5 789,50</text>
<text class="b8" transform="translate(558.0 556) rotate(.05)" textLength="24.2" lengthAdjust="spacingAndGlyphs" text-anchor="end">0,00</text>
<text class="b8" transform="translate(645.0 556) rotate(.05)" textLength="48.3" lengthAdjust="spacingAndGlyphs" text-anchor="end">5 789,50</text>
<text class="b8" transform="translate(651.0 556) rotate(.05)" textLength="12.9" lengthAdjust="spacingAndGlyphs">Kč</text>
<text class="b8" transform="translate(697.7 556) rotate(.05)" textLength="30.9" lengthAdjust="spacingAndGlyphs" text-anchor="end">1 185</text>
<text class="b8" transform="translate(757.7 556) rotate(.05)" textLength="48.3" lengthAdjust="spacingAndGlyphs" text-anchor="end">6 403,19</text>
<text class="b8" transform="translate(27.0 568) rotate(.05)" textLength="57.2" lengthAdjust="spacingAndGlyphs">10/2004/7</text>
<g clip-path="url(#cv)"><text class="b8" transform="translate(126.5 568) rotate(.05)" textLength="76.6" lengthAdjust="spacingAndGlyphs">40020000007</text></g>
<text class="b75" transform="translate(205.4 568) rotate(.05)" textLength="55.8" lengthAdjust="spacingAndGlyphs">Vitana, a.s.</text>
<g clip-path="url(#cs)"><text class="b8" transform="translate(388.2 568) rotate(.05)" textLength="62.0" lengthAdjust="spacingAndGlyphs" text-anchor="end">20.11.2005</text></g>
<text class="b8" transform="translate(474.6 568) rotate(.05)" textLength="48.3" lengthAdjust="spacingAndGlyphs" text-anchor="end">9 026,20</text>
<text class="b8" transform="translate(558.0 568) rotate(.05)" textLength="24.2" lengthAdjust="spacingAndGlyphs" text-anchor="end">0,00</text>
<text class="b8" transform="translate(645.0 568) rotate(.05)" textLength="48.3" lengthAdjust="spacingAndGlyphs" text-anchor="end">9 026,20</text>
<text class="b8" transform="translate(651.0 568) rotate(.05)" textLength="12.9" lengthAdjust="spacingAndGlyphs">Kč</text>
<text class="b8" transform="translate(697.7 568) rotate(.05)" textLength="30.9" lengthAdjust="spacingAndGlyphs" text-anchor="end">1 169</text>
<text class="b8" transform="translate(757.7 568) rotate(.05)" textLength="48.3" lengthAdjust="spacingAndGlyphs" text-anchor="end">9 910,77</text>
<text class="b8" transform="translate(27.0 580) rotate(.05)" textLength="57.2" lengthAdjust="spacingAndGlyphs">10/2006/1</text>
<g clip-path="url(#cv)"><text class="b8" transform="translate(126.5 580) rotate(.05)" textLength="76.6" lengthAdjust="spacingAndGlyphs">60020000001</text></g>
<text class="b75" transform="translate(206.0 580) rotate(.05)" textLength="64.6" lengthAdjust="spacingAndGlyphs">BRAVO s.r.o.</text>
<g clip-path="url(#cs)"><text class="b8" transform="translate(388.2 580) rotate(.05)" textLength="55.3" lengthAdjust="spacingAndGlyphs" text-anchor="end">12.7.2006</text></g>
<text class="b8" transform="translate(474.6 580) rotate(.05)" textLength="48.3" lengthAdjust="spacingAndGlyphs" text-anchor="end">1 063,30</text>
<text class="b8" transform="translate(558.0 580) rotate(.05)" textLength="24.2" lengthAdjust="spacingAndGlyphs" text-anchor="end">0,00</text>
<text class="b8" transform="translate(645.0 580) rotate(.05)" textLength="48.3" lengthAdjust="spacingAndGlyphs" text-anchor="end">1 063,30</text>
<text class="b8" transform="translate(651.0 580) rotate(.05)" textLength="12.9" lengthAdjust="spacingAndGlyphs">Kč</text>
<text class="b8" transform="translate(697.7 580) rotate(.05)" textLength="20.4" lengthAdjust="spacingAndGlyphs" text-anchor="end">935</text>
<text class="b8" transform="translate(757.7 580) rotate(.05)" textLength="48.3" lengthAdjust="spacingAndGlyphs" text-anchor="end">1 043,10</text>
<text class="b8" transform="translate(27.0 592) rotate(.05)" textLength="57.2" lengthAdjust="spacingAndGlyphs">10/2008/3</text>
<g clip-path="url(#cv)"><text class="b8" transform="translate(126.5 592) rotate(.05)" textLength="76.6" lengthAdjust="spacingAndGlyphs">60020000003</text></g>
<text class="b75" transform="translate(205.9 592) rotate(.05)" textLength="90.4" lengthAdjust="spacingAndGlyphs">Potraviny Albertík</text>
<g clip-path="url(#cs)"><text class="b8" transform="translate(388.2 592) rotate(.05)" textLength="62.0" lengthAdjust="spacingAndGlyphs" text-anchor="end">29.12.2008</text></g>
<text class="b8" transform="translate(474.6 592) rotate(.05)" textLength="48.3" lengthAdjust="spacingAndGlyphs" text-anchor="end">2 975,00</text>
<text class="b8" transform="translate(558.0 592) rotate(.05)" textLength="24.2" lengthAdjust="spacingAndGlyphs" text-anchor="end">0,00</text>
<text class="b8" transform="translate(645.0 592) rotate(.05)" textLength="48.3" lengthAdjust="spacingAndGlyphs" text-anchor="end">2 975,00</text>
<text class="b8" transform="translate(651.0 592) rotate(.05)" textLength="12.9" lengthAdjust="spacingAndGlyphs">Kč</text>
<text class="b8" transform="translate(697.7 592) rotate(.05)" textLength="13.6" lengthAdjust="spacingAndGlyphs" text-anchor="end">34</text>
<text class="b8" transform="translate(757.7 592) rotate(.05)" textLength="48.3" lengthAdjust="spacingAndGlyphs" text-anchor="end">1 578,24</text>
<text class="b8" transform="translate(27.0 604) rotate(.05)" textLength="57.2" lengthAdjust="spacingAndGlyphs">10/2008/1</text>
<g clip-path="url(#cv)"><text class="b8" transform="translate(126.5 604) rotate(.05)" textLength="76.6" lengthAdjust="spacingAndGlyphs">60020000001</text></g>
<text class="b75" transform="translate(205.4 604) rotate(.05)" textLength="46.8" lengthAdjust="spacingAndGlyphs">AB Group</text>
<g clip-path="url(#cs)"><text class="b8" transform="translate(388.2 604) rotate(.05)" textLength="48.5" lengthAdjust="spacingAndGlyphs" text-anchor="end">6.1.2009</text></g>
<text class="b8" transform="translate(474.6 604) rotate(.05)" textLength="37.8" lengthAdjust="spacingAndGlyphs" text-anchor="end">209,61</text>
<text class="b8" transform="translate(558.0 604) rotate(.05)" textLength="24.2" lengthAdjust="spacingAndGlyphs" text-anchor="end">0,00</text>
<text class="b8" transform="translate(645.0 604) rotate(.05)" textLength="37.8" lengthAdjust="spacingAndGlyphs" text-anchor="end">209,61</text>
<text class="b8" transform="translate(651.0 604) rotate(.05)" textLength="12.9" lengthAdjust="spacingAndGlyphs">Kč</text>
<text class="b8" transform="translate(697.7 604) rotate(.05)" textLength="13.6" lengthAdjust="spacingAndGlyphs" text-anchor="end">26</text>
<text class="b8" transform="translate(757.7 604) rotate(.05)" textLength="37.8" lengthAdjust="spacingAndGlyphs" text-anchor="end">110,36</text>
<text class="b8" transform="translate(27.0 616) rotate(.05)" textLength="57.2" lengthAdjust="spacingAndGlyphs">10/2008/2</text>
<g clip-path="url(#cv)"><text class="b8" transform="translate(126.5 616) rotate(.05)" textLength="76.6" lengthAdjust="spacingAndGlyphs">60020000002</text></g>
<text class="b75" transform="translate(205.4 616) rotate(.05)" textLength="46.8" lengthAdjust="spacingAndGlyphs">AB Group</text>
<g clip-path="url(#cs)"><text class="b8" transform="translate(388.2 616) rotate(.05)" textLength="48.5" lengthAdjust="spacingAndGlyphs" text-anchor="end">6.1.2009</text></g>
<text class="b8" transform="translate(474.6 616) rotate(.05)" textLength="35.9" lengthAdjust="spacingAndGlyphs" text-anchor="end">-18,00</text>
<text class="b8" transform="translate(558.0 616) rotate(.05)" textLength="24.2" lengthAdjust="spacingAndGlyphs" text-anchor="end">0,00</text>
<text class="b8" transform="translate(645.0 616) rotate(.05)" textLength="35.9" lengthAdjust="spacingAndGlyphs" text-anchor="end">-18,00</text>
<text class="b8" transform="translate(651.0 616) rotate(.05)" textLength="12.9" lengthAdjust="spacingAndGlyphs">Kč</text>
<text class="b8" transform="translate(697.7 616) rotate(.05)" textLength="13.6" lengthAdjust="spacingAndGlyphs" text-anchor="end">26</text>
<text class="b8" transform="translate(757.7 616) rotate(.05)" textLength="29.1" lengthAdjust="spacingAndGlyphs" text-anchor="end">-9,48</text>
<text class="b8" transform="translate(27.0 628) rotate(.05)" textLength="57.2" lengthAdjust="spacingAndGlyphs">10/2009/2</text>
<g clip-path="url(#cv)"><text class="b8" transform="translate(126.5 628) rotate(.05)" textLength="76.6" lengthAdjust="spacingAndGlyphs">60020000002</text></g>
<text class="b75" transform="translate(205.4 628) rotate(.05)" textLength="95.4" lengthAdjust="spacingAndGlyphs">Anonymní zákazník</text>
<g clip-path="url(#cs)"><text class="b8" transform="translate(388.2 628) rotate(.05)" textLength="48.5" lengthAdjust="spacingAndGlyphs" text-anchor="end">4.2.2009</text></g>
<text class="b8" transform="translate(474.6 628) rotate(.05)" textLength="35.9" lengthAdjust="spacingAndGlyphs" text-anchor="end">-45,60</text>
<text class="b8" transform="translate(558.0 628) rotate(.05)" textLength="24.2" lengthAdjust="spacingAndGlyphs" text-anchor="end">0,00</text>
<text class="b8" transform="translate(645.0 628) rotate(.05)" textLength="35.9" lengthAdjust="spacingAndGlyphs" text-anchor="end">-45,60</text>
<text class="b8" transform="translate(651.0 628) rotate(.05)" textLength="12.9" lengthAdjust="spacingAndGlyphs">Kč</text>
<text class="b8" transform="translate(697.7 628) rotate(.05)" textLength="11.6" lengthAdjust="spacingAndGlyphs" text-anchor="end">-3</text>
<text class="b8" transform="translate(757.7 628) rotate(.05)" textLength="35.9" lengthAdjust="spacingAndGlyphs" text-anchor="end">-23,35</text>
<text class="b8" transform="translate(27.0 640) rotate(.05)" textLength="57.2" lengthAdjust="spacingAndGlyphs">10/2009/7</text>
<g clip-path="url(#cv)"><text class="b8" transform="translate(126.5 640) rotate(.05)" textLength="76.6" lengthAdjust="spacingAndGlyphs">90020000007</text></g>
<text class="b75" transform="translate(205.6 640) rotate(.05)" textLength="98.2" lengthAdjust="spacingAndGlyphs">Cukrárna PALEČEK</text>
<g clip-path="url(#cs)"><text class="b8" transform="translate(388.2 640) rotate(.05)" textLength="48.5" lengthAdjust="spacingAndGlyphs" text-anchor="end">4.2.2009</text></g>
<text class="b8" transform="translate(474.6 640) rotate(.05)" textLength="61.9" lengthAdjust="spacingAndGlyphs" text-anchor="end">226 262,86</text>
<text class="b8" transform="translate(558.0 640) rotate(.05)" textLength="24.2" lengthAdjust="spacingAndGlyphs" text-anchor="end">0,00</text>
<text class="b8" transform="translate(645.0 640) rotate(.05)" textLength="61.9" lengthAdjust="spacingAndGlyphs" text-anchor="end">226 262,86</text>
<text class="b8" transform="translate(651.0 640) rotate(.05)" textLength="12.9" lengthAdjust="spacingAndGlyphs">Kč</text>
<text class="b8" transform="translate(697.7 640) rotate(.05)" textLength="11.6" lengthAdjust="spacingAndGlyphs" text-anchor="end">-3</text>
<text class="b8" transform="translate(757.7 640) rotate(.05)" textLength="55.1" lengthAdjust="spacingAndGlyphs" text-anchor="end">16 699,83</text>
<text class="b8" transform="translate(27.0 652) rotate(.05)" textLength="57.2" lengthAdjust="spacingAndGlyphs">10/2009/3</text>
<g clip-path="url(#cv)"><text class="b8" transform="translate(126.5 652) rotate(.05)" textLength="76.6" lengthAdjust="spacingAndGlyphs">60020000003</text></g>
<text class="b75" transform="translate(205.4 652) rotate(.05)" textLength="48.8" lengthAdjust="spacingAndGlyphs">Včela a.s.</text>
<g clip-path="url(#cs)"><text class="b8" transform="translate(388.2 652) rotate(.05)" textLength="48.5" lengthAdjust="spacingAndGlyphs" text-anchor="end">5.2.2009</text></g>
<text class="b8" transform="translate(474.6 652) rotate(.05)" textLength="42.6" lengthAdjust="spacingAndGlyphs" text-anchor="end">-285,60</text>
<text class="b8" transform="translate(558.0 652) rotate(.05)" textLength="24.2" lengthAdjust="spacingAndGlyphs" text-anchor="end">0,00</text>
<text class="b8" transform="translate(645.0 652) rotate(.05)" textLength="42.6" lengthAdjust="spacingAndGlyphs" text-anchor="end">-285,60</text>
<text class="b8" transform="translate(651.0 652) rotate(.05)" textLength="12.9" lengthAdjust="spacingAndGlyphs">Kč</text>
<text class="b8" transform="translate(697.7 652) rotate(.05)" textLength="11.6" lengthAdjust="spacingAndGlyphs" text-anchor="end">-4</text>
<text class="b8" transform="translate(757.7 652) rotate(.05)" textLength="42.6" lengthAdjust="spacingAndGlyphs" text-anchor="end">-146,08</text>
<text class="b8" transform="translate(27.0 664) rotate(.05)" textLength="57.2" lengthAdjust="spacingAndGlyphs">10/2009/1</text>
<g clip-path="url(#cv)"><text class="b8" transform="translate(126.5 664) rotate(.05)" textLength="76.6" lengthAdjust="spacingAndGlyphs">60020000001</text></g>
<text class="b75" transform="translate(205.4 664) rotate(.05)" textLength="48.8" lengthAdjust="spacingAndGlyphs">Včela a.s.</text>
<g clip-path="url(#cs)"><text class="b8" transform="translate(388.2 664) rotate(.05)" textLength="48.5" lengthAdjust="spacingAndGlyphs" text-anchor="end">6.8.2009</text></g>
<text class="b8" transform="translate(474.6 664) rotate(.05)" textLength="48.3" lengthAdjust="spacingAndGlyphs" text-anchor="end">2 000,00</text>
<text class="b8" transform="translate(558.0 664) rotate(.05)" textLength="24.2" lengthAdjust="spacingAndGlyphs" text-anchor="end">0,00</text>
<text class="b8" transform="translate(645.0 664) rotate(.05)" textLength="48.3" lengthAdjust="spacingAndGlyphs" text-anchor="end">2 000,00</text>
<text class="b8" transform="translate(651.0 664) rotate(.05)" textLength="12.9" lengthAdjust="spacingAndGlyphs">Kč</text>
<text class="b8" transform="translate(697.7 664) rotate(.05)" textLength="25.2" lengthAdjust="spacingAndGlyphs" text-anchor="end">-186</text>
<text class="b8" transform="translate(757.7 664) rotate(.05)" textLength="37.8" lengthAdjust="spacingAndGlyphs" text-anchor="end">841,00</text>
<rect x="19" y="666" width="740" height="1"/>
<text class="b8" transform="translate(38.0 682) rotate(.05)" textLength="13.6" lengthAdjust="spacingAndGlyphs">Sk</text>
<text class="b8" transform="translate(474.6 682) rotate(.05)" textLength="55.1" lengthAdjust="spacingAndGlyphs" text-anchor="end">45 444,79</text>
<text class="b8" transform="translate(558.0 682) rotate(.05)" textLength="24.2" lengthAdjust="spacingAndGlyphs" text-anchor="end">0,00</text>
<text class="b8" transform="translate(645.0 682) rotate(.05)" textLength="55.1" lengthAdjust="spacingAndGlyphs" text-anchor="end">45 444,79</text>
<text class="b8" transform="translate(651.0 682) rotate(.05)" textLength="13.6" lengthAdjust="spacingAndGlyphs">Sk</text>
<text class="i7" transform="translate(475.4 694) rotate(.05)" textLength="48.2" lengthAdjust="spacingAndGlyphs" text-anchor="end">35 601,90</text>
<text class="i7" transform="translate(558.3 694) rotate(.05)" textLength="21.2" lengthAdjust="spacingAndGlyphs" text-anchor="end">0,00</text>
<text class="i7" transform="translate(645.5 694) rotate(.05)" textLength="48.2" lengthAdjust="spacingAndGlyphs" text-anchor="end">35 601,90</text>
<text class="i7" transform="translate(650.7 694) rotate(.05)" textLength="11.3" lengthAdjust="spacingAndGlyphs">Kč</text>
<rect x="27" y="702" width="732" height="1"/>
<text class="b8" transform="translate(27.0 713) rotate(.05)" textLength="57.2" lengthAdjust="spacingAndGlyphs">20/2001/1</text>
<g clip-path="url(#cv)"><text class="b8" transform="translate(126.5 713) rotate(.05)" textLength="47.7" lengthAdjust="spacingAndGlyphs">0000001</text></g>
<text class="b75" transform="translate(206.3 713) rotate(.05)" textLength="87.7" lengthAdjust="spacingAndGlyphs">Ed. Haas SK s.r.o.</text>
<g clip-path="url(#cs)"><text class="b8" transform="translate(388.2 713) rotate(.05)" textLength="62.0" lengthAdjust="spacingAndGlyphs" text-anchor="end">31.10.2003</text></g>
<text class="b8" transform="translate(474.6 713) rotate(.05)" textLength="55.1" lengthAdjust="spacingAndGlyphs" text-anchor="end">45 444,79</text>
<text class="b8" transform="translate(558.0 713) rotate(.05)" textLength="24.2" lengthAdjust="spacingAndGlyphs" text-anchor="end">0,00</text>
<text class="b8" transform="translate(645.0 713) rotate(.05)" textLength="55.1" lengthAdjust="spacingAndGlyphs" text-anchor="end">45 444,79</text>
<text class="b8" transform="translate(651.0 713) rotate(.05)" textLength="13.6" lengthAdjust="spacingAndGlyphs">Sk</text>
<text class="b8" transform="translate(697.7 713) rotate(.05)" textLength="30.9" lengthAdjust="spacingAndGlyphs" text-anchor="end">1 920</text>
<text class="b8" transform="translate(757.7 713) rotate(.05)" textLength="37.8" lengthAdjust="spacingAndGlyphs" text-anchor="end">708,79</text>
<text class="i7" transform="translate(305.2 725) rotate(.05)" textLength="23.0" lengthAdjust="spacingAndGlyphs">Kurz:</text>
<text class="i7" transform="translate(375.2 725) rotate(.05)" textLength="39.0" lengthAdjust="spacingAndGlyphs" text-anchor="end">78,3410</text>
<text class="i7" transform="translate(475.4 725) rotate(.05)" textLength="48.2" lengthAdjust="spacingAndGlyphs" text-anchor="end">35 601,90</text>
<text class="i7" transform="translate(558.3 725) rotate(.05)" textLength="21.2" lengthAdjust="spacingAndGlyphs" text-anchor="end">0,00</text>
<text class="i7" transform="translate(645.5 725) rotate(.05)" textLength="48.2" lengthAdjust="spacingAndGlyphs" text-anchor="end">35 601,90</text>
<text class="i7" transform="translate(650.7 725) rotate(.05)" textLength="11.3" lengthAdjust="spacingAndGlyphs">Kč</text>
<text class="i7" transform="translate(757.5 725) rotate(.05)" textLength="33.1" lengthAdjust="spacingAndGlyphs" text-anchor="end">555,28</text>
<rect x="19" y="727" width="740" height="1"/>
<text class="bb7" transform="translate(20.0 742) rotate(.05)" textLength="35.7" lengthAdjust="spacingAndGlyphs">311100</text>
<text class="bb7" transform="translate(475.0 742) rotate(.05)" textLength="47.3" lengthAdjust="spacingAndGlyphs" text-anchor="end">47 165,20</text>
<text class="bb7" transform="translate(558.3 742) rotate(.05)" textLength="20.8" lengthAdjust="spacingAndGlyphs" text-anchor="end">0,00</text>
<text class="bb7" transform="translate(644.6 742) rotate(.05)" textLength="47.3" lengthAdjust="spacingAndGlyphs" text-anchor="end">47 165,20</text>
<text class="bb7" transform="translate(651.4 742) rotate(.05)" textLength="11.6" lengthAdjust="spacingAndGlyphs">Kč</text>
<text class="b8" transform="translate(38.0 754) rotate(.05)" textLength="12.9" lengthAdjust="spacingAndGlyphs">Kč</text>
<text class="b8" transform="translate(474.6 754) rotate(.05)" textLength="55.1" lengthAdjust="spacingAndGlyphs" text-anchor="end">47 165,20</text>
<text class="b8" transform="translate(558.0 754) rotate(.05)" textLength="24.2" lengthAdjust="spacingAndGlyphs" text-anchor="end">0,00</text>
<text class="b8" transform="translate(645.0 754) rotate(.05)" textLength="55.1" lengthAdjust="spacingAndGlyphs" text-anchor="end">47 165,20</text>
<text class="b8" transform="translate(651.0 754) rotate(.05)" textLength="12.9" lengthAdjust="spacingAndGlyphs">Kč</text>
<rect x="27" y="760" width="732" height="1"/>
<text class="b8" transform="translate(27.0 771) rotate(.05)" textLength="57.2" lengthAdjust="spacingAndGlyphs">10/2001/6</text>
<g clip-path="url(#cv)"><text class="b8" transform="translate(126.5 771) rotate(.05)" textLength="76.6" lengthAdjust="spacingAndGlyphs">10020000006</text></g>
<text class="b75" transform="translate(205.6 771) rotate(.05)" textLength="124.7" lengthAdjust="spacingAndGlyphs">Shell Czech Republic a.s.</text>
<g clip-path="url(#cs)"><text class="b8" transform="translate(388.2 771) rotate(.05)" textLength="55.3" lengthAdjust="spacingAndGlyphs" text-anchor="end">24.3.2001</text></g>
<text class="b8" transform="translate(474.6 771) rotate(.05)" textLength="55.1" lengthAdjust="spacingAndGlyphs" text-anchor="end">47 165,20</text>
<text class="b8" transform="translate(558.0 771) rotate(.05)" textLength="24.2" lengthAdjust="spacingAndGlyphs" text-anchor="end">0,00</text>
<text class="b8" transform="translate(645.0 771) rotate(.05)" textLength="55.1" lengthAdjust="spacingAndGlyphs" text-anchor="end">47 165,20</text>
<text class="b8" transform="translate(651.0 771) rotate(.05)" textLength="12.9" lengthAdjust="spacingAndGlyphs">Kč</text>
<text class="b8" transform="translate(697.7 771) rotate(.05)" textLength="30.9" lengthAdjust="spacingAndGlyphs" text-anchor="end">2 871</text>
<text class="b8" transform="translate(757.7 771) rotate(.05)" textLength="55.1" lengthAdjust="spacingAndGlyphs" text-anchor="end">91 924,97</text>
<rect x="19" y="773" width="740" height="1"/>
<text class="bb7" transform="translate(20.0 788) rotate(.05)" textLength="35.7" lengthAdjust="spacingAndGlyphs">315000</text>
<text class="bb7" transform="translate(475.0 788) rotate(.05)" textLength="47.3" lengthAdjust="spacingAndGlyphs" text-anchor="end">65 785,95</text>
<text class="bb7" transform="translate(558.3 788) rotate(.05)" textLength="20.8" lengthAdjust="spacingAndGlyphs" text-anchor="end">0,00</text>
<text class="bb7" transform="translate(644.6 788) rotate(.05)" textLength="47.3" lengthAdjust="spacingAndGlyphs" text-anchor="end">65 785,95</text>
<text class="bb7" transform="translate(651.4 788) rotate(.05)" textLength="11.6" lengthAdjust="spacingAndGlyphs">Kč</text>
<text class="b8" transform="translate(38.0 800) rotate(.05)" textLength="12.9" lengthAdjust="spacingAndGlyphs">Kč</text>
<text class="b8" transform="translate(474.6 800) rotate(.05)" textLength="55.1" lengthAdjust="spacingAndGlyphs" text-anchor="end">65 785,95</text>
<text class="b8" transform="translate(558.0 800) rotate(.05)" textLength="24.2" lengthAdjust="spacingAndGlyphs" text-anchor="end">0,00</text>
<text class="b8" transform="translate(645.0 800) rotate(.05)" textLength="55.1" lengthAdjust="spacingAndGlyphs" text-anchor="end">65 785,95</text>
<text class="b8" transform="translate(651.0 800) rotate(.05)" textLength="12.9" lengthAdjust="spacingAndGlyphs">Kč</text>
<rect x="27" y="806" width="732" height="1"/>
<text class="b8" transform="translate(27.0 817) rotate(.05)" textLength="57.2" lengthAdjust="spacingAndGlyphs">10/2005/1</text>
<g clip-path="url(#cv)"><text class="b8" transform="translate(126.5 817) rotate(.05)" textLength="76.6" lengthAdjust="spacingAndGlyphs">40020000001</text></g>
<text class="b75" transform="translate(205.8 817) rotate(.05)" textLength="51.4" lengthAdjust="spacingAndGlyphs">Trade, a.s.</text>
<g clip-path="url(#cs)"><text class="b8" transform="translate(388.2 817) rotate(.05)" textLength="55.3" lengthAdjust="spacingAndGlyphs" text-anchor="end">15.8.2005</text></g>
<text class="b8" transform="translate(474.6 817) rotate(.05)" textLength="55.1" lengthAdjust="spacingAndGlyphs" text-anchor="end">65 785,95</text>
<text class="b8" transform="translate(558.0 817) rotate(.05)" textLength="24.2" lengthAdjust="spacingAndGlyphs" text-anchor="end">0,00</text>
<text class="b8" transform="translate(645.0 817) rotate(.05)" textLength="55.1" lengthAdjust="spacingAndGlyphs" text-anchor="end">65 785,95</text>
<text class="b8" transform="translate(651.0 817) rotate(.05)" textLength="12.9" lengthAdjust="spacingAndGlyphs">Kč</text>
<text class="b8" transform="translate(697.7 817) rotate(.05)" textLength="30.9" lengthAdjust="spacingAndGlyphs" text-anchor="end">1 266</text>
<text class="b8" transform="translate(757.7 817) rotate(.05)" textLength="24.2" lengthAdjust="spacingAndGlyphs" text-anchor="end">0,00</text>
<rect x="19" y="819" width="740" height="1"/>
<rect x="19" y="824" width="741" height="2"/>
<text class="bb9" transform="translate(19.6 846) rotate(.05)" textLength="53.5" lengthAdjust="spacingAndGlyphs">Celkem:</text>
<text class="bb9" transform="translate(475.2 846) rotate(.05)" textLength="72.6" lengthAdjust="spacingAndGlyphs" text-anchor="end">705 071,62</text>
<text class="bb9" transform="translate(645.2 846) rotate(.05)" textLength="72.6" lengthAdjust="spacingAndGlyphs" text-anchor="end">703 259,32</text>
<text class="bb9" transform="translate(651.0 846) rotate(.05)" textLength="15.8" lengthAdjust="spacingAndGlyphs">Kč</text>
<text class="bb9" transform="translate(557.8 859) rotate(.05)" textLength="55.8" lengthAdjust="spacingAndGlyphs" text-anchor="end">1 812,30</text>
<text class="bb9" transform="translate(20.3 878) rotate(.05)" textLength="40.9" lengthAdjust="spacingAndGlyphs">Storno</text>
<text class="bb9" transform="translate(67.0 878) rotate(.05)" textLength="50.6" lengthAdjust="spacingAndGlyphs">dokladů</text>
<text class="bb9" transform="translate(124.3 878) rotate(.05)" textLength="23.4" lengthAdjust="spacingAndGlyphs">(#):</text>
<text class="bb9" transform="translate(20.6 894) rotate(.05)" textLength="51.7" lengthAdjust="spacingAndGlyphs">Dokladů</text>
<text class="bb9" transform="translate(78.0 894) rotate(.05)" textLength="6.6" lengthAdjust="spacingAndGlyphs">s</text>
<text class="bb9" transform="translate(90.0 894) rotate(.05)" textLength="45.3" lengthAdjust="spacingAndGlyphs">platbou</text>
<text class="bb9" transform="translate(142.0 894) rotate(.05)" textLength="28.1" lengthAdjust="spacingAndGlyphs">před</text>
<text class="bb9" transform="translate(176.2 894) rotate(.05)" textLength="24.4" lengthAdjust="spacingAndGlyphs">UZP</text>
<text class="bb9" transform="translate(206.3 894) rotate(.05)" textLength="44.2" lengthAdjust="spacingAndGlyphs">faktury</text>
<text class="bb9" transform="translate(257.1 894) rotate(.05)" textLength="22.3" lengthAdjust="spacingAndGlyphs">(*):</text>
<text class="bb9" transform="translate(20.3 910) rotate(.05)" textLength="48.0" lengthAdjust="spacingAndGlyphs">Celkem</text>
<text class="bb9" transform="translate(74.1 910) rotate(.05)" textLength="53.3" lengthAdjust="spacingAndGlyphs">dokladů:</text>
<text class="bb9" transform="translate(445.6 878) rotate(.05)" textLength="7.8" lengthAdjust="spacingAndGlyphs" text-anchor="end">0</text>
<text class="bb9" transform="translate(445.6 894) rotate(.05)" textLength="7.8" lengthAdjust="spacingAndGlyphs" text-anchor="end">0</text>
<text class="bb9" transform="translate(445.6 910) rotate(.05)" textLength="15.6" lengthAdjust="spacingAndGlyphs" text-anchor="end">35</text>
<text class="i9" transform="translate(612.0 894) rotate(.05)" textLength="93.0" lengthAdjust="spacingAndGlyphs" text-anchor="end">Minimální rozdíl:</text>
<text class="i9" transform="translate(612.0 910) rotate(.05)" textLength="62.6" lengthAdjust="spacingAndGlyphs" text-anchor="end">Období do:</text>
<text class="i9" transform="translate(696.0 894) rotate(.05)" textLength="23.0" lengthAdjust="spacingAndGlyphs" text-anchor="end">0,01</text>
<text class="i9" transform="translate(703.6 894) rotate(.05)" textLength="14.6" lengthAdjust="spacingAndGlyphs">Kč</text>
<text class="i9" transform="translate(648.4 910) rotate(.05)" textLength="49.4" lengthAdjust="spacingAndGlyphs">1.2.2009</text>
</svg>
</body></html>
